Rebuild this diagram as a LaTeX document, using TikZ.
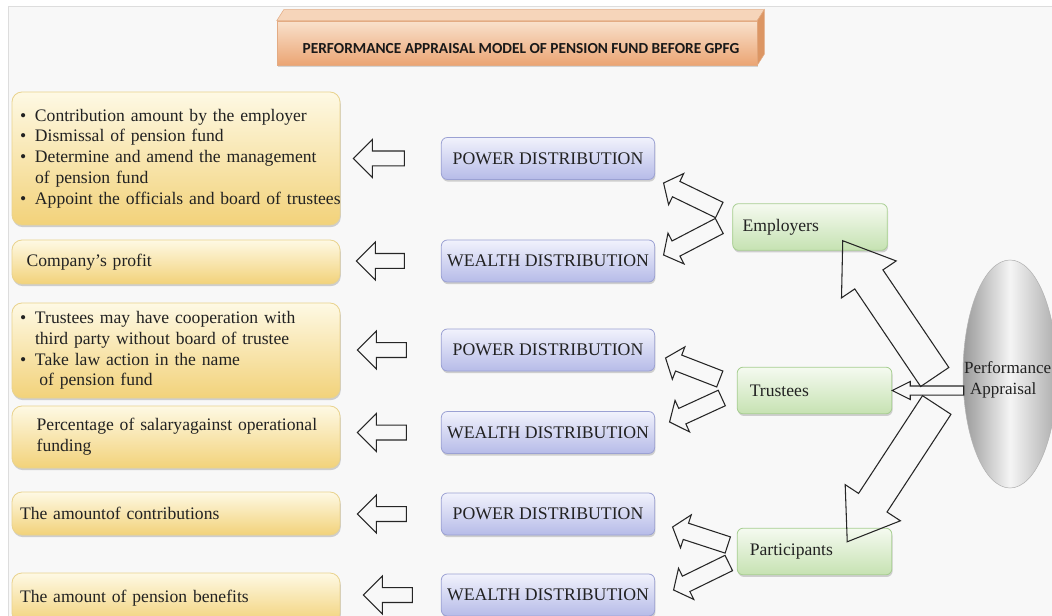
\documentclass[tikz,border=0pt]{standalone}
\usepackage{fontspec}
\setmainfont{Liberation Serif}
\newfontfamily\titlefont{Carlito}
\usepackage{tikz}
\usetikzlibrary{shapes,arrows,positioning,calc,shadows}

\definecolor{bgpanel}{HTML}{F8F8F8}
\definecolor{bgline}{HTML}{DDDDDD}
\definecolor{ytop}{HTML}{FEF9E4}
\definecolor{ybot}{HTML}{F2D27A}
\definecolor{yline}{HTML}{E9D38E}
\definecolor{btop}{HTML}{F1F2FC}
\definecolor{bbot}{HTML}{B6BBE8}
\definecolor{bline}{HTML}{9BA1D3}
\definecolor{gtop}{HTML}{F5FAF0}
\definecolor{gbot}{HTML}{C6E2B2}
\definecolor{gline}{HTML}{A8CE92}
\definecolor{ttop}{HTML}{F9E1CC}
\definecolor{tbot}{HTML}{EBA574}
\definecolor{tside}{HTML}{DC9664}
\definecolor{tlid}{HTML}{F6D5BA}
\definecolor{ink}{HTML}{222222}

% hollow block arrow: shaft half width, head half width, head length, tail, tip
\newcommand{\fatarrow}[5]{%
  \path ($(#5)!#3!(#4)$) coordinate (fa-b);
  \draw[fatline] ($(#4)!#1!90:(#5)$) -- ($(fa-b)!#1!90:(#5)$) -- ($(fa-b)!#2!90:(#5)$) -- (#5)
    -- ($(fa-b)!#2!-90:(#5)$) -- ($(fa-b)!#1!-90:(#5)$) -- ($(#4)!#1!-90:(#5)$) -- cycle;}
\newcommand{\bul}{\makebox[11.25pt][l]{\textbullet}}

\tikzset{
    ybox/.style={rectangle, draw=yline, line width=0.6pt, rounded corners=7.5pt,
        top color=ytop, bottom color=ybot,
        drop shadow={shadow xshift=0.6pt, shadow yshift=-1.6pt, opacity=0.35},
        text width=234pt, inner xsep=6pt, align=left, text=ink,
        font=\fontsize{13.2}{15.6}\selectfont},
    bbox/.style={rectangle, draw=bline, line width=0.6pt, rounded corners=4.5pt,
        top color=btop, bottom color=bbot,
        drop shadow={shadow xshift=0.6pt, shadow yshift=-1.6pt, opacity=0.35},
        minimum width=160pt, minimum height=31.5pt, text=ink,
        font=\fontsize{13.3}{15}\selectfont},
    gbox/.style={rectangle, draw=gline, line width=0.6pt, rounded corners=4.5pt,
        top color=gtop, bottom color=gbot,
        drop shadow={shadow xshift=0.6pt, shadow yshift=-1.6pt, opacity=0.35},
        text width=101pt, inner xsep=7.5pt, minimum height=35pt, align=left, text=ink,
        font=\fontsize{13.2}{15.6}\selectfont},
    fatline/.style={draw=black!85, line width=0.8pt, line join=miter}
}

\begin{document}
\begin{tikzpicture}[x=0.75pt, y=-0.75pt]
    \useasboundingbox (0,0) rectangle (1052,616);

    % Background panel
    \fill[bgpanel] (8,6) rectangle (1060,620);
    \draw[bgline] (8,620) -- (8,6) -- (1060,6);

    % Title slab
    \node[rectangle, minimum width=360pt, minimum height=33pt, top color=ttop, bottom color=tbot,
        draw=tside!80, line width=0.4pt,
        drop shadow={shadow xshift=0.8pt, shadow yshift=-1.2pt, opacity=0.3}] (title) at (517,43) {};
    \filldraw[fill=tlid, draw=tside!80, line width=0.4pt] (title.north west) -- ++(7,-11)
        -- ($(title.north east)+(7,-11)$) -- (title.north east) -- cycle;
    \filldraw[fill=tside, draw=tside!80, line width=0.4pt] (title.north east) -- ++(7,-11)
        -- ($(title.south east)+(7,-11)$) -- (title.south east) -- cycle;
    \node[font=\titlefont\bfseries\fontsize{11.5}{13}\selectfont, text=black!90] (titletext)
        at ($(title.center)+(4,6)$) {PERFORMANCE APPRAISAL MODEL OF PENSION FUND BEFORE GPFG};

    % Outcomes
    \node[ybox, minimum height=99.75pt] (y1) at (176,158.5) {\bul Contribution amount by the employer\\
        \bul Dismissal of pension fund\\
        \bul Determine and amend the management\\
        \hspace*{11.25pt}of pension fund\\
        \bul\mbox{Appoint the officials and board of trustees}};
    \node[ybox, minimum height=33pt] (y2) at (176,262) {\hspace*{5pt}Company's profit};
    \node[ybox, minimum height=71.25pt] (y3) at (176,350.5) {\bul Trustees may have cooperation with\\
        \hspace*{11.25pt}third party without board of trustee\\
        \bul Take law action in the name\\
        \hspace*{14.5pt}of pension fund};
    \node[ybox, minimum height=46.5pt] (y4) at (176,437) {\hspace*{12.5pt}Percentage of salaryagainst operational\\
        \hspace*{12.5pt}funding};
    \node[ybox, minimum height=32.25pt] (y5) at (176,513.5) {The amountof contributions};
    \node[ybox, minimum height=37.5pt] (y6) at (176,598) {The amount of pension benefits};

    % Distributions
    \node[bbox] (pw1) at (548,158.5) {POWER DISTRIBUTION};
    \node[bbox] (wd1) at (548,261) {WEALTH DISTRIBUTION};
    \node[bbox] (pw2) at (548,350) {POWER DISTRIBUTION};
    \node[bbox] (wd2) at (548,432.5) {WEALTH DISTRIBUTION};
    \node[bbox] (pw3) at (548,514) {POWER DISTRIBUTION};
    \node[bbox] (wd3) at (548,595) {WEALTH DISTRIBUTION};

    % Actors
    \node[gbox] (emp) at (810,227) {Employers};
    \node[gbox] (tru) at (814.5,390.5) {\hspace*{2pt}Trustees};
    \node[gbox] (par) at (814.5,551.5) {\hspace*{2pt}Participants};

    % Performance appraisal
    \node[ellipse, minimum width=70.5pt, minimum height=171pt, draw=gray!60, line width=0.4pt,
        left color=gray!80, right color=gray!65, middle color=gray!8] (pa) at (1010,374) {};
    \node[align=left, anchor=west, inner sep=0pt, text=ink, font=\fontsize{12.8}{15.6}\selectfont] (pal)
        at ($(pa.west)+(1,6)$) {Performance\\\hspace*{4.5pt}Appraisal};

    % Distribution -> outcome
    \foreach \b/\y/\s/\t in {pw1/y1/36.5/13, wd1/y2/36.5/16, pw2/y3/34.5/17,
                             wd2/y4/34.5/17, pw3/y5/34.5/17, wd3/y6/28.5/23} {
        \coordinate (lt) at ($(\b.west)+(-\s,0)$);
        \coordinate (lh) at ($(\y.east |- \b.west)+(\t,0)$);
        \fatarrow{5.6pt}{14.25pt}{14.25pt}{lt}{lh}
    }

    % Actor -> distributions
    \foreach \g/\b/\ax/\ay/\bx/\by in {emp/pw1/-13/-17/8.5/24.5, emp/wd1/-13/-1/8.5/-6,
                                        tru/pw2/-17/-11.5/10.5/8, tru/wd2/-15/7.5/14.5/-10.5,
                                        par/pw3/-9/-6.5/17.5/13, par/wd3/-8/11.5/18.5/-5} {
        \coordinate (ft) at ($(\g.west)+(\ax,\ay)$);
        \coordinate (fh) at ($(\b.east)+(\bx,\by)$);
        \fatarrow{6.4pt}{13pt}{10.5pt}{ft}{fh}
    }

    % Appraisal -> actors
    \coordinate (pe) at ($(pa.west)+(-28,3)$);
    \coordinate (ee) at ($(emp.south east)+(-45,-10)$);
    \fatarrow{12.75pt}{24.75pt}{35pt}{pe}{ee}
    \coordinate (pp) at ($(pa.west)+(-26,31)$);
    \coordinate (pt) at ($(par.north east)+(-45,14)$);
    \fatarrow{12.75pt}{24.75pt}{35pt}{pp}{pt}
    \coordinate (ptr) at ($(tru.east -| pa.west)+(1,0)$);
    \fatarrow{3.4pt}{6.75pt}{13.5pt}{ptr}{tru.east}
\end{tikzpicture}
\end{document}
